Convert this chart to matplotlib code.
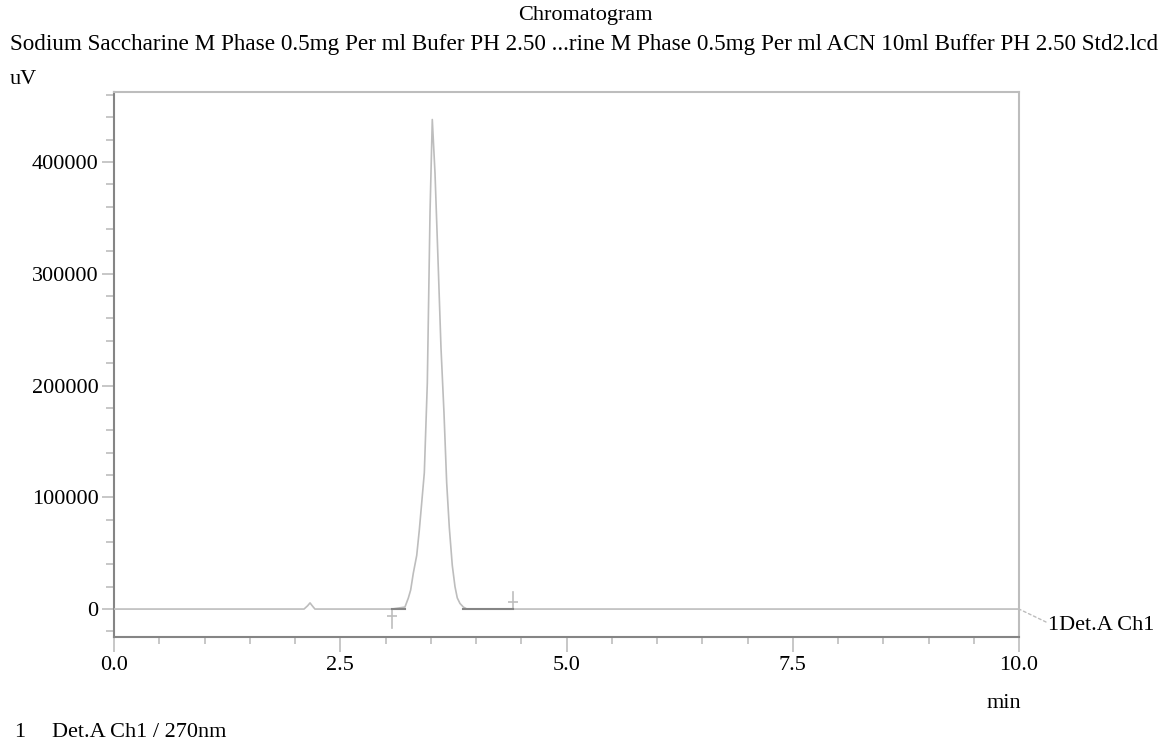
import matplotlib
matplotlib.use("Agg")
import matplotlib.pyplot as plt
from matplotlib.ticker import MultipleLocator


# Trace (min, uV)
TIME = [0.0, 1.60, 2.10, 2.14, 2.166, 2.19, 2.22, 3.00, 3.07, 3.215, 3.252, 3.278,
        3.307, 3.345, 3.374, 3.400, 3.429, 3.462, 3.492, 3.517, 3.547, 3.583,
        3.613, 3.646, 3.676, 3.705, 3.738, 3.768, 3.793, 3.823, 3.860, 3.90,
        4.40, 10.0]
SIGNAL = [0, 0, 0, 3000, 5500, 3000, 0, 0, 0, 1800, 9800, 17000, 32000, 48000,
          71000, 95000, 122000, 202000, 355000, 438000, 390000, 306000, 234000,
          176000, 113000, 73000, 39000, 20000, 10000, 5000, 1800, 0, 0, 0]

# integration marks
PEAK_START = 3.07
PEAK_END = 4.41
BASE_SEGS = [(3.07, 3.215), (3.86, 4.41)]

TITLE = "Chromatogram"
SUBTITLE = ("Sodium Saccharine M Phase 0.5mg Per ml Bufer PH 2.50 ...rine M Phase "
            "0.5mg Per ml ACN 10ml Buffer PH 2.50 Std2.lcd")
Y_TICKS = [0, 100000, 200000, 300000, 400000]
X_TICKS = [0.0, 2.5, 5.0, 7.5, 10.0]

plt.rcParams['font.family'] = ['Liberation Serif', 'DejaVu Serif']
FS = 16
LIGHT = "#bdbdbd"
DARK = "#858585"
W, H = 1167, 744


def fy(y):
    # pixel row from the top -> figure fraction
    return 1 - y / H


fig = plt.figure(figsize=(W / 100, H / 100), dpi=100)
ax = fig.add_axes([114 / W, 107 / H, 905 / W, 545 / H])

ax.plot(TIME, SIGNAL, color=LIGHT, lw=1.2, zorder=3)
for a, b in BASE_SEGS:
    ax.plot([a, b], [0, 0], color=DARK, lw=1.5, zorder=4)

# start / end markers
ax.plot([PEAK_START, PEAK_START], [0, -17000], color=LIGHT, lw=1.2, zorder=3)
ax.plot([PEAK_START], [-6000], marker="_", ms=7, color=LIGHT, mew=1.2, zorder=3)
ax.plot([PEAK_END, PEAK_END], [0, 15000], color=LIGHT, lw=1.2, zorder=3)
ax.plot([PEAK_END], [6500], marker="_", ms=7, color=LIGHT, mew=1.2, zorder=3)

ax.set_xlim(0, 10)
ax.set_ylim(-25000, 462600)
ax.set_xticks(X_TICKS)
ax.set_xticklabels([f"{v:.1f}" for v in X_TICKS], fontsize=FS)
ax.set_yticks(Y_TICKS)
ax.set_yticklabels([str(v) for v in Y_TICKS], fontsize=FS)
ax.xaxis.set_minor_locator(MultipleLocator(0.5))
ax.yaxis.set_minor_locator(MultipleLocator(20000))
ax.tick_params(axis="y", which="major", direction="out", length=9, width=1.2,
               color=LIGHT, pad=2)
ax.tick_params(axis="y", which="minor", direction="out", length=6, width=1.2, color=LIGHT)
ax.tick_params(axis="x", which="major", direction="out", length=11, width=1.2,
               color=LIGHT, pad=3)
ax.tick_params(axis="x", which="minor", direction="out", length=5, width=1.2, color=LIGHT)

for s in ["left", "bottom"]:
    ax.spines[s].set_color(DARK)
    ax.spines[s].set_linewidth(1.5)
for s in ["top", "right"]:
    ax.spines[s].set_color(LIGHT)
    ax.spines[s].set_linewidth(1.5)

# channel label on the right, joined to the trace end by a dashed leader
ax.annotate("1Det.A Ch1", xy=(10.0, 0), xytext=(1048 / W, fy(630)),
            textcoords="figure fraction", fontsize=FS, va="baseline", ha="left",
            annotation_clip=False)
ax.annotate("", xy=(10.0, 0), xytext=(1046 / W, fy(622)),
            textcoords="figure fraction", annotation_clip=False,
            arrowprops=dict(arrowstyle="-", linestyle=(0, (2, 2)), color=LIGHT, lw=1,
                            shrinkA=0, shrinkB=0))

fig.text(585 / W, fy(20), TITLE, fontsize=FS, ha="center", va="baseline")
fig.text(10 / W, fy(50), SUBTITLE, fontsize=16.7, ha="left", va="baseline")
fig.text(10 / W, fy(84), "uV", fontsize=FS, ha="left", va="baseline")
fig.text(1021 / W, fy(708), "min", fontsize=FS, ha="right", va="baseline")
fig.text(14 / W, fy(737), "1", fontsize=FS, ha="left", va="baseline")
fig.text(52 / W, fy(737), "Det.A Ch1 / 270nm", fontsize=FS, ha="left", va="baseline")

fig.savefig("out.png", dpi=100)
